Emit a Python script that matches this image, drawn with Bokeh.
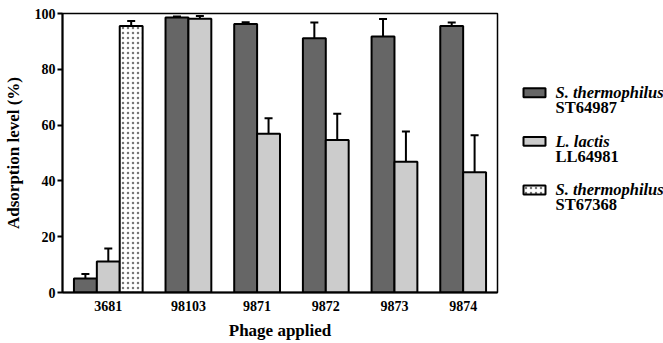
from bokeh.plotting import figure
from bokeh.models import Range1d, FixedTicker, Whisker, TeeHead, ColumnDataSource
from bokeh.layouts import row
from bokeh.core.properties import value
from bokeh.embed import file_html
from bokeh.resources import INLINE

# ---- data ----
categories = ["3681", "98103", "9871", "9872", "9873", "9874"]
species = ["S. thermophilus", "L. lactis", "S. thermophilus"]
strains = ["ST64987", "LL64981", "ST67368"]
st64987 = [5.0, 98.6, 96.2, 91.1, 91.8, 95.5]
st64987_err = [1.6, 0.3, 0.7, 5.7, 6.2, 1.3]
ll64981 = [11.1, 98.1, 56.9, 54.7, 46.9, 43.1]
ll64981_err = [4.7, 1.0, 5.6, 9.4, 10.8, 13.3]
st67368 = [95.5, None, None, None, None, None]
st67368_err = [1.8, None, None, None, None, None]
y_ticks = [0, 20, 40, 60, 80, 100]

series_vals = [st64987, ll64981, st67368]
series_errs = [st64987_err, ll64981_err, st67368_err]
fills = ["#666666", "#cccccc", "#ffffff"]
hatches = [None, None, "dot"]

FONT = "Liberation Serif"

# ---- layout of bars: bars of unit width, one-unit gaps between groups ----
xs = [[] for _ in series_vals]
tops = [[] for _ in series_vals]
errs = [[] for _ in series_vals]
centers = []
pos = 0.5
for ci in range(len(categories)):
    members = []
    for si, vals in enumerate(series_vals):
        if vals[ci] is not None:
            xc = pos + 0.5
            xs[si].append(xc)
            tops[si].append(vals[ci])
            errs[si].append(vals[ci] + series_errs[si][ci])
            members.append(xc)
            pos += 1
    centers.append(sum(members) / len(members))
    pos += 1
x_end = pos - 0.5

H = 343
p = figure(width=503, height=H, x_range=Range1d(0, x_end), y_range=Range1d(0, 100),
           output_backend="svg", toolbar_location=None,
           min_border_left=62, min_border_right=6, min_border_top=13, min_border_bottom=51)
p.grid.visible = False
p.outline_line_color = "black"
p.outline_line_width = 1.5

hatch_kw = dict(hatch_color="#777777", hatch_scale=5, hatch_weight=0.8)

for si in range(len(series_vals)):
    src = ColumnDataSource(dict(x=xs[si], top=tops[si], upper=errs[si]))
    kw = dict(hatch_pattern=hatches[si], **hatch_kw) if hatches[si] else {}
    p.vbar(x="x", top="top", bottom=0, width=1, source=src, fill_color=fills[si],
           line_color="black", line_width=2, **kw)
    w = Whisker(base="x", lower="top", upper="upper", source=src, dimension="height",
                line_color="black", line_width=2,
                upper_head=TeeHead(size=8, line_width=2, line_color="black"), lower_head=None)
    p.add_layout(w)

# axes
p.yaxis.ticker = FixedTicker(ticks=y_ticks)
p.yaxis.major_tick_out = 5
p.yaxis.major_tick_in = 0
p.yaxis.minor_tick_line_color = None
p.yaxis.major_label_standoff = 2
p.yaxis.axis_line_width = 2
p.yaxis.major_tick_line_width = 2
p.yaxis.axis_label = "Adsorption level (%)"
p.yaxis.axis_label_standoff = 9

p.xaxis.ticker = FixedTicker(ticks=centers)
p.xaxis.major_label_overrides = {c: n for c, n in zip(centers, categories)}
p.xaxis.major_tick_out = 0
p.xaxis.major_tick_in = 0
p.xaxis.minor_tick_line_color = None
p.xaxis.major_label_standoff = 8
p.xaxis.axis_line_width = 2
p.xaxis.axis_label = "Phage applied"
p.xaxis.axis_label_standoff = 7

for ax in (p.xaxis[0], p.yaxis[0]):
    ax.major_label_text_font = FONT
    ax.major_label_text_font_style = "bold"
    ax.major_label_text_font_size = "14px"
    ax.major_label_text_color = "black"
    ax.axis_label_text_font = FONT
    ax.axis_label_text_font_style = "bold"
    ax.axis_label_text_font_size = "17px"
    ax.axis_label_text_color = "black"
    ax.axis_line_color = "black"
    ax.major_tick_line_color = "black"

# ---- legend panel ----
lg = figure(width=160, height=H, x_range=Range1d(0, 160), y_range=Range1d(H, 0),
            output_backend="svg", toolbar_location=None,
            x_axis_location=None, y_axis_location=None, min_border=0)
lg.grid.visible = False
lg.outline_line_color = None

for i in range(len(strains)):
    yc = 97.5 + i * 59.7
    kw = dict(hatch_pattern=hatches[i], **hatch_kw) if hatches[i] else {}
    lg.quad(left=20, right=42, top=yc - 5.5, bottom=yc + 5.5, fill_color=fills[i],
            line_color="black", line_width=2, **kw)
    lg.text(x=[52], y=[yc], text=[species[i]], text_font=value(FONT),
            text_font_style="bold italic", text_font_size="16.5px", text_baseline="middle",
            text_color="black")
    lg.text(x=[52], y=[yc + 18.5], text=[strains[i]], text_font=value(FONT),
            text_font_style="bold", text_font_size="16.5px", text_baseline="middle",
            text_color="black")

layout = row(p, lg)
open("out.html", "w").write(file_html(layout, INLINE))
